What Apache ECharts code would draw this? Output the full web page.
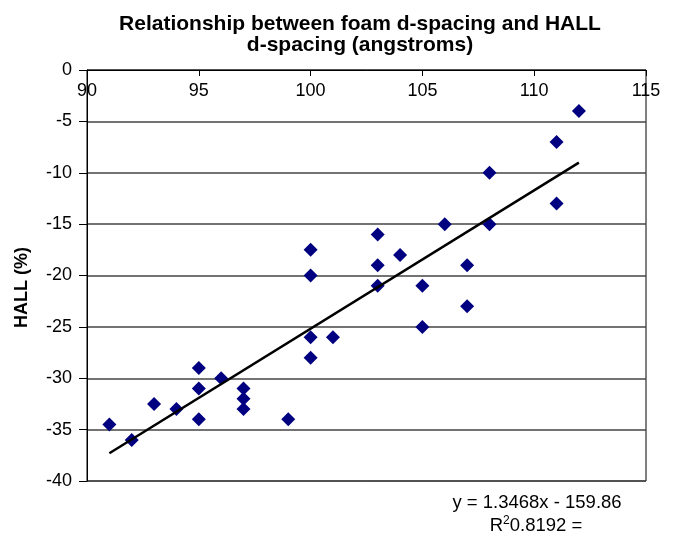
<!DOCTYPE html>
<html>
<head>
<meta charset="utf-8">
<script src="https://cdn.jsdelivr.net/npm/echarts@6/dist/echarts.min.js"></script>
<style>
  html, body { margin: 0; padding: 0; background: #fff; }
  #chart { width: 675px; height: 536px; }
</style>
</head>
<body>
<div id="chart"></div>
<script>
// Foam d-spacing (angstroms) against HALL change (%)
const foamSpacing = [91, 92, 93, 94, 95, 95, 95, 96, 97, 97, 97, 99, 100, 100, 100, 100, 101,
  103, 103, 103, 104, 105, 105, 106, 107, 107, 108, 108, 111, 111, 112];
const hallPercent = [-34.5, -36, -32.5, -33, -29, -31, -34, -30, -31, -32, -33, -34, -17.5, -20, -26, -28, -26,
  -16, -19, -21, -18, -21, -25, -15, -19, -23, -10, -15, -7, -13, -4];

// Linear trendline coefficients and its x extent
const trendSlope = 1.3468;
const trendIntercept = -159.86;
const trendR2 = 0.8192;
const trendRange = [91, 112];

const xTicks = [90, 95, 100, 105, 110, 115];
const yTicks = [0, -5, -10, -15, -20, -25, -30, -35, -40];

const points = foamSpacing.map((x, i) => [x, hallPercent[i]]);
const trendPoints = trendRange.map(x => [x, trendSlope * x + trendIntercept]);

const FONT = '"Liberation Sans", Arial, sans-serif';
const chart = echarts.init(document.getElementById('chart'), null, { renderer: 'canvas' });

chart.setOption({
  backgroundColor: '#fff',
  animation: false,
  title: {
    text: 'Relationship between foam d-spacing and HALL\nd-spacing (angstroms)',
    left: 355,
    top: 9,
    textAlign: 'center',
    textStyle: { fontFamily: FONT, fontSize: 21, fontWeight: 'bold', color: '#000', lineHeight: 21 }
  },
  grid: {
    left: 87, right: 29, top: 70, bottom: 55,
    show: true, borderColor: '#000', borderWidth: 1, backgroundColor: '#fff'
  },
  xAxis: {
    type: 'value',
    position: 'top',
    min: xTicks[0], max: xTicks[xTicks.length - 1], interval: 5,
    axisLine: { show: true, onZero: false, lineStyle: { color: '#000', width: 1 } },
    axisTick: { show: true, inside: true, length: 6, lineStyle: { color: '#000' } },
    axisLabel: { inside: true, margin: 12, fontFamily: FONT, fontSize: 18, color: '#000',
      showMinLabel: true, showMaxLabel: true },
    splitLine: { show: false }
  },
  yAxis: {
    type: 'value',
    min: yTicks[yTicks.length - 1], max: yTicks[0], interval: 5,
    name: 'HALL (%)',
    nameLocation: 'middle',
    nameGap: 56,
    nameTextStyle: { fontFamily: FONT, fontSize: 18, fontWeight: 'bold', color: '#000', padding: [0, 0, 0, -24] },
    axisLine: { show: true, lineStyle: { color: '#000', width: 1 } },
    axisTick: { show: true, length: 8, lineStyle: { color: '#000' } },
    axisLabel: { margin: 15, fontFamily: FONT, fontSize: 18, color: '#000' },
    splitLine: { show: true, lineStyle: { color: '#444', width: 1.5 } }
  },
  series: [
    {
      type: 'scatter',
      data: points,
      symbol: 'diamond',
      symbolSize: 14,
      itemStyle: { color: '#000080', opacity: 1 },
      z: 3
    },
    {
      type: 'line',
      data: trendPoints,
      symbol: 'none',
      lineStyle: { color: '#000', width: 2.5 },
      z: 4
    }
  ],
  graphic: [
    {
      type: 'text',
      x: 537, y: 503,
      style: {
        text: 'y = ' + trendSlope + 'x - ' + Math.abs(trendIntercept),
        font: '18.5px ' + FONT, fill: '#000',
        align: 'center', verticalAlign: 'middle'
      }
    },
    {
      type: 'text',
      x: 536, y: 525,
      style: {
        text: '{b|R}{s|2}{b|' + trendR2 + ' =}',
        align: 'center', verticalAlign: 'middle',
        rich: {
          b: { fontFamily: FONT, fontSize: 18.5, color: '#000', verticalAlign: 'bottom' },
          s: { fontFamily: FONT, fontSize: 12, color: '#000', verticalAlign: 'top', padding: [0, 0, 8, 0] }
        }
      }
    }
  ]
});
</script>
</body>
</html>
